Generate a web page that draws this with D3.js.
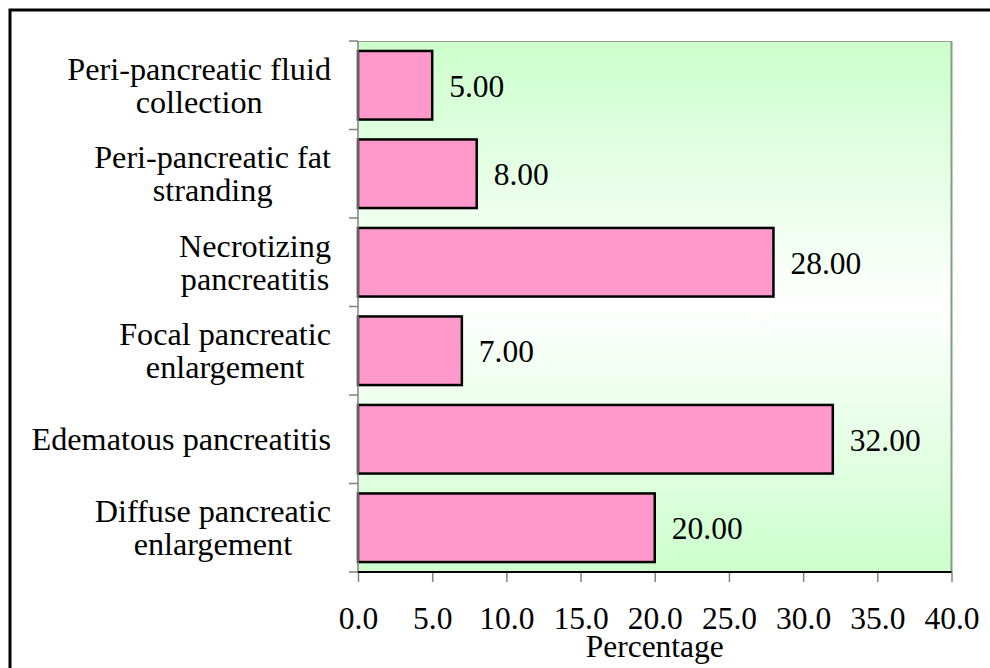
<!DOCTYPE html>
<html>
<head>
<meta charset="utf-8">
<script src="https://cdn.jsdelivr.net/npm/d3@7"></script>
<style>
  html, body { margin: 0; padding: 0; background: #ffffff; overflow: hidden; }
</style>
</head>
<body>
<svg id="chart" width="990" height="668"></svg>
<script>
// CT findings, percentage of patients
const categories = [
  ["Peri-pancreatic fluid", "collection"],
  ["Peri-pancreatic fat", "stranding"],
  ["Necrotizing", "pancreatitis"],
  ["Focal pancreatic", "enlargement"],
  ["Edematous pancreatitis"],
  ["Diffuse pancreatic", "enlargement"]
];
const values = [5, 8, 28, 7, 32, 20];
const xTicks = [0, 5, 10, 15, 20, 25, 30, 35, 40];
const xTitle = "Percentage";

const FONT = "'Liberation Serif', 'Times New Roman', Times, serif";
const svg = d3.select("#chart").attr("font-family", FONT);
const W = 990, H = 668;
const plot = { left: 358, right: 951.5, top: 41, bottom: 572 };
const fontSize = 31.5;
const catFontSize = 32.2;

// outer frame (runs past the right and bottom edges)
svg.append("rect")
  .attr("x", 10).attr("y", 10)
  .attr("width", W + 20).attr("height", H + 20)
  .attr("fill", "#ffffff").attr("stroke", "#000").attr("stroke-width", 3);

// plot background: green at the edges, white in the middle
const defs = svg.append("defs");
const grad = defs.append("linearGradient")
  .attr("id", "bg").attr("x1", 0).attr("y1", 0).attr("x2", 0).attr("y2", 1);
grad.append("stop").attr("offset", "0%").attr("stop-color", "#ccffcc");
grad.append("stop").attr("offset", "50%").attr("stop-color", "#ffffff");
grad.append("stop").attr("offset", "100%").attr("stop-color", "#ccffcc");

svg.append("rect")
  .attr("x", plot.left).attr("y", plot.top)
  .attr("width", plot.right - plot.left).attr("height", plot.bottom - plot.top)
  .attr("fill", "url(#bg)");

// top and right edges of the plot area
svg.append("line")
  .attr("x1", plot.left).attr("x2", plot.right)
  .attr("y1", plot.top + 0.5).attr("y2", plot.top + 0.5)
  .attr("stroke", "#999999").attr("stroke-width", 1);
svg.append("line")
  .attr("x1", plot.right).attr("x2", plot.right)
  .attr("y1", plot.top).attr("y2", plot.bottom)
  .attr("stroke", "#7f9f7f").attr("stroke-width", 2);

const x = d3.scaleLinear().domain([0, 40]).range([plot.left, plot.right]);
const y = d3.scaleBand()
  .domain(d3.range(categories.length))
  .range([plot.top, plot.bottom])
  .paddingInner(0.225).paddingOuter(0.1125);
const band = d3.scaleBand()
  .domain(d3.range(categories.length))
  .range([plot.top, plot.bottom]);

// bars
svg.append("g").selectAll("rect")
  .data(values)
  .join("rect")
  .attr("x", x(0))
  .attr("y", (d, i) => y(i))
  .attr("width", d => x(d) - x(0))
  .attr("height", y.bandwidth())
  .attr("fill", "#ff99cc")
  .attr("stroke", "#000")
  .attr("stroke-width", 2.5);

// value labels
svg.append("g").selectAll("text")
  .data(values)
  .join("text")
  .attr("font-family", FONT)
  .attr("x", d => x(d) + 17)
  .attr("y", (d, i) => band(i) + band.bandwidth() / 2 + 11.5)
  .attr("font-size", fontSize)
  .attr("fill", "#000")
  .text(d => d.toFixed(2));

// left axis: ticks at category boundaries
const yAxisG = svg.append("g");
yAxisG.append("line")
  .attr("x1", plot.left).attr("x2", plot.left)
  .attr("y1", plot.top).attr("y2", plot.bottom)
  .attr("stroke", "#808080").attr("stroke-width", 1.5);
yAxisG.selectAll("line.tick")
  .data(d3.range(categories.length + 1))
  .join("line")
  .attr("class", "tick")
  .attr("x1", plot.left - 9).attr("x2", plot.left)
  .attr("y1", i => i < categories.length ? band(i) : plot.bottom)
  .attr("y2", i => i < categories.length ? band(i) : plot.bottom)
  .attr("stroke", "#808080").attr("stroke-width", 1.5);

// category labels: centred lines in a block right-aligned near the axis
const labelRight = 331;
const lineH = 33;
categories.forEach((lines, i) => {
  const cy = band(i) + band.bandwidth() / 2;
  const g = svg.append("g");
  const texts = lines.map((ln, k) => g.append("text")
    .attr("font-family", FONT)
    .attr("font-size", catFontSize)
    .attr("fill", "#000")
    .attr("text-anchor", "middle")
    .attr("y", cy + 11 + (k - (lines.length - 1) / 2) * lineH)
    .text(ln));
  const widest = d3.max(texts, t => t.node().getComputedTextLength());
  texts.forEach(t => t.attr("x", labelRight - widest / 2));
});

// bottom axis
const xAxis = d3.axisBottom(x)
  .tickValues(xTicks)
  .tickSize(10)
  .tickPadding(0)
  .tickFormat(d3.format(".1f"));
const xg = svg.append("g")
  .attr("transform", `translate(0,${plot.bottom})`)
  .call(xAxis)
  .attr("font-family", FONT);
xg.select(".domain").remove();
xg.selectAll(".tick line").attr("stroke", "#808080").attr("stroke-width", 1.5);
xg.selectAll(".tick text")
  .attr("font-size", fontSize)
  .attr("font-family", FONT)
  .attr("fill", "#000")
  .attr("dy", null)
  .attr("y", 57);
svg.append("line")
  .attr("x1", plot.left).attr("x2", plot.right)
  .attr("y1", plot.bottom).attr("y2", plot.bottom)
  .attr("stroke", "#000").attr("stroke-width", 2);

// axis title
svg.append("text")
  .attr("font-family", FONT)
  .attr("x", (plot.left + plot.right) / 2)
  .attr("y", 657)
  .attr("text-anchor", "middle")
  .attr("font-size", fontSize)
  .attr("fill", "#000")
  .text(xTitle);
</script>
</body>
</html>
